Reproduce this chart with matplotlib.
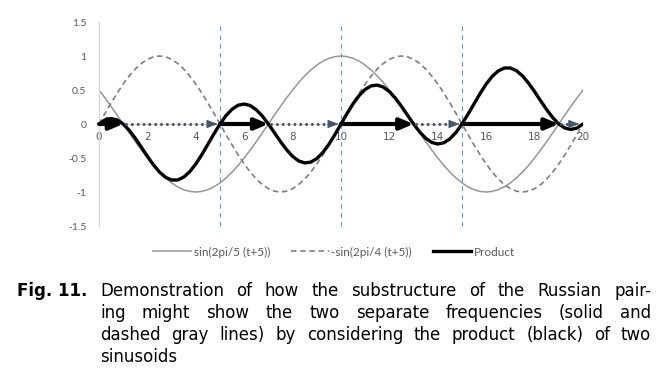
import matplotlib
matplotlib.use("Agg")
import matplotlib.pyplot as plt
from matplotlib.lines import Line2D
import numpy as np

# sample positions along the horizontal axis (step 0.25)
t = np.arange(0, 20.25, 0.25)

# values, one per sample
solid_vals = [
    0.5, 0.383, 0.259, 0.131, 0, -0.131, -0.259, -0.383,
    -0.5, -0.609, -0.707, -0.793, -0.866, -0.924, -0.966, -0.991,
    -1, -0.991, -0.966, -0.924, -0.866, -0.793, -0.707, -0.609,
    -0.5, -0.383, -0.259, -0.131, 0, 0.131, 0.259, 0.383,
    0.5, 0.609, 0.707, 0.793, 0.866, 0.924, 0.966, 0.991,
    1, 0.991, 0.966, 0.924, 0.866, 0.793, 0.707, 0.609,
    0.5, 0.383, 0.259, 0.131, 0, -0.131, -0.259, -0.383,
    -0.5, -0.609, -0.707, -0.793, -0.866, -0.924, -0.966, -0.991,
    -1, -0.991, -0.966, -0.924, -0.866, -0.793, -0.707, -0.609,
    -0.5, -0.383, -0.259, -0.131, 0, 0.131, 0.259, 0.383,
    0.5,
]
dashed_vals = [
    0, 0.156, 0.309, 0.454, 0.588, 0.707, 0.809, 0.891,
    0.951, 0.988, 1, 0.988, 0.951, 0.891, 0.809, 0.707,
    0.588, 0.454, 0.309, 0.156, 0, -0.156, -0.309, -0.454,
    -0.588, -0.707, -0.809, -0.891, -0.951, -0.988, -1, -0.988,
    -0.951, -0.891, -0.809, -0.707, -0.588, -0.454, -0.309, -0.156,
    0, 0.156, 0.309, 0.454, 0.588, 0.707, 0.809, 0.891,
    0.951, 0.988, 1, 0.988, 0.951, 0.891, 0.809, 0.707,
    0.588, 0.454, 0.309, 0.156, 0, -0.156, -0.309, -0.454,
    -0.588, -0.707, -0.809, -0.891, -0.951, -0.988, -1, -0.988,
    -0.951, -0.891, -0.809, -0.707, -0.588, -0.454, -0.309, -0.156,
    0,
]
product_vals = [
    0, 0.060, 0.080, 0.059, 0, -0.093, -0.210, -0.341,
    -0.476, -0.601, -0.707, -0.784, -0.824, -0.823, -0.781, -0.701,
    -0.588, -0.450, -0.298, -0.145, 0, 0.124, 0.218, 0.276,
    0.294, 0.271, 0.209, 0.117, 0, -0.129, -0.259, -0.378,
    -0.476, -0.543, -0.572, -0.561, -0.509, -0.419, -0.298, -0.155,
    0, 0.155, 0.298, 0.419, 0.509, 0.561, 0.572, 0.543,
    0.476, 0.378, 0.259, 0.129, 0, -0.117, -0.209, -0.271,
    -0.294, -0.276, -0.218, -0.124, 0, 0.145, 0.298, 0.450,
    0.588, 0.701, 0.781, 0.823, 0.824, 0.784, 0.707, 0.601,
    0.476, 0.341, 0.210, 0.093, 0, -0.059, -0.080, -0.060,
    0,
]

series_labels = ["sin(2pi/5 (t+5))", "-sin(2pi/4 (t+5))", "Product"]

# arrows along the zero line
black_starts = [0, 5, 10, 15]
black_ends = [1, 7, 13, 19]
dotted_starts = [1, 7, 13, 19]
dotted_ends = [4.9, 9.9, 14.9, 19.85]
vlines_x = [5, 10, 15]

x_ticks = [0, 2, 4, 6, 8, 10, 12, 14, 16, 18, 20]
y_ticks = [1.5, 1, 0.5, 0, -0.5, -1, -1.5]
y_tick_labels = ["1.5", "1", "0.5", "0", "-0.5", "-1", "-1.5"]

caption_lines = [
    "Demonstration of how the substructure of the Russian pair-",
    "ing might show the two separate frequencies (solid and",
    "dashed gray lines) by considering the product (black) of two",
    "sinusoids",
]

GRAY_TXT = "#595959"
SOLID_C = "#969696"
DASH_C = "#7f7f7f"
ARROW_C = "#44546a"
VLINE_C = "#5b9bd5"

plt.rcParams["axes.unicode_minus"] = False

W, H = 665, 374
fig = plt.figure(figsize=(W / 100, H / 100), dpi=100)
ax = fig.add_axes([99 / W, 1 - 226 / H, 484 / W, 204 / H])

ax.plot(t, solid_vals, color=SOLID_C, lw=1.1, zorder=2)
ax.plot(t, dashed_vals, color=DASH_C, lw=1.2, ls=(0, (3.3, 2.2)), zorder=2)
ax.plot(t, product_vals, color="black", lw=2.4, zorder=3,
        solid_capstyle="round", solid_joinstyle="round")

for xv in vlines_x:
    ax.plot([xv, xv], [-1.5, 1.5], color=VLINE_C, lw=0.8,
            ls=(0, (4, 4)), zorder=4, clip_on=False)

for s, e in zip(black_starts, black_ends):
    ax.annotate("", xy=(e, 0), xytext=(s, 0),
                arrowprops=dict(arrowstyle="-|>,head_length=0.8,head_width=0.34",
                                lw=3, color="black", shrinkA=0, shrinkB=0,
                                mutation_scale=10),
                zorder=5)

for s, e in zip(dotted_starts, dotted_ends):
    ax.plot([s + 0.1, e - 0.3], [0, 0], color=ARROW_C, lw=2.2,
            ls=(0, (0.01, 1.9)), dash_capstyle="round", zorder=5)
    ax.annotate("", xy=(e, 0), xytext=(e - 0.4, 0),
                arrowprops=dict(arrowstyle="-|>,head_length=0.7,head_width=0.27",
                                lw=0.5, color=ARROW_C, shrinkA=0, shrinkB=0,
                                mutation_scale=10),
                zorder=5)

ax.set_xlim(0, 20)
ax.set_ylim(-1.5, 1.5)
ax.set_xticks(x_ticks)
ax.set_xticklabels([str(v) for v in x_ticks])
ax.set_yticks(y_ticks)
ax.set_yticklabels(y_tick_labels)
ax.tick_params(axis="both", length=0, labelsize=7.5, labelcolor=GRAY_TXT)
ax.tick_params(axis="x", pad=6)
ax.tick_params(axis="y", pad=9)
for lab in ax.get_xticklabels() + ax.get_yticklabels():
    lab.set_family("Lato")

ax.spines["top"].set_visible(False)
ax.spines["right"].set_visible(False)
ax.spines["bottom"].set_position(("data", 0))
ax.spines["bottom"].set_color("#d9d9d9")
ax.spines["left"].set_color("#d9d9d9")
ax.spines["left"].set_linewidth(1.0)
ax.patch.set_visible(False)

handles = [
    Line2D([], [], color=SOLID_C, lw=1.1),
    Line2D([], [], color=DASH_C, lw=1.2, ls=(0, (3.3, 2.2))),
    Line2D([], [], color="black", lw=2.4),
]
leg = fig.legend(handles, series_labels, loc="center", ncol=3,
                 bbox_to_anchor=(334 / W, 1 - 252 / H), frameon=False,
                 prop={"family": "Lato", "size": 8.5}, handlelength=3.2,
                 handletextpad=0.2, columnspacing=1.8)
for txt in leg.get_texts():
    txt.set_color(GRAY_TXT)

# caption, justified between x=100 and x=651 like the original
renderer = fig.canvas.get_renderer()
cap_kw = dict(family="DejaVu Sans", size=12, color="black", va="baseline", ha="left")
fig.text(17 / W, 1 - 296 / H, "Fig. 11.", fontweight="bold", **cap_kw)
x_left, x_right = 100 / W, 651 / W
for i, line in enumerate(caption_lines):
    y = 1 - (296 + 22 * i) / H
    if i == len(caption_lines) - 1:
        fig.text(x_left, y, line, **cap_kw)
        continue
    words = line.split()
    arts = [fig.text(0, y, w, **cap_kw) for w in words]
    widths = [a.get_window_extent(renderer).width / fig.bbox.width for a in arts]
    gap = (x_right - x_left - sum(widths)) / (len(words) - 1)
    xpos = x_left
    for a, wd in zip(arts, widths):
        a.set_x(xpos)
        xpos += wd + gap

fig.savefig("out.png", dpi=100)
